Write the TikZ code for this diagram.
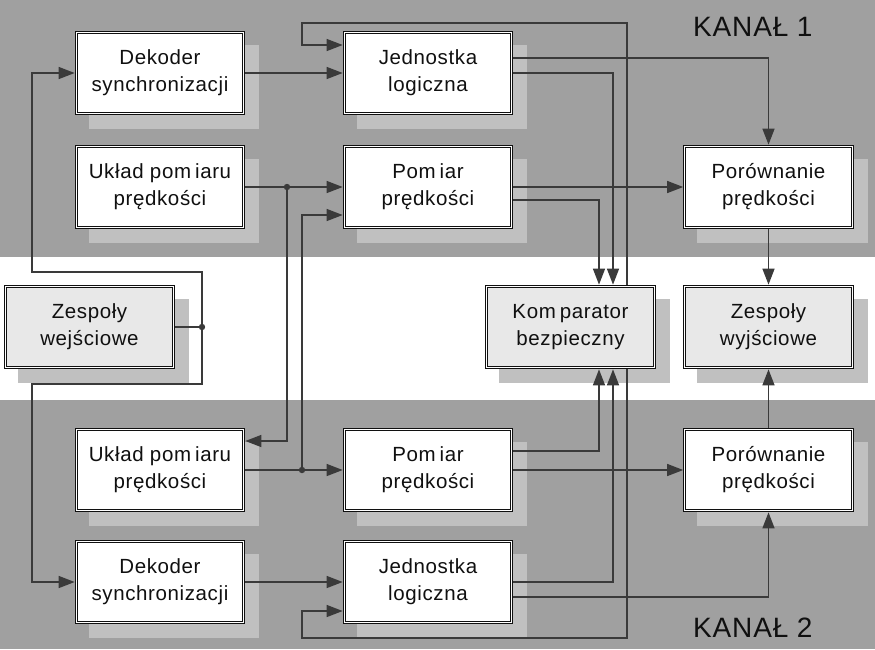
\documentclass[tikz,border=0pt]{standalone}
\usepackage{fontspec}
\setmainfont{Liberation Sans}[LetterSpace=3]
\usetikzlibrary{arrows.meta}
\pgfdeclarelayer{bg}
\pgfsetlayers{bg,main}
\definecolor{bandgray}{HTML}{A0A0A0}
\definecolor{shadowgray}{HTML}{C0C0C0}
\definecolor{panel}{HTML}{E8E8E8}
\definecolor{wire}{HTML}{3A3A3A}
\definecolor{ink}{HTML}{101010}
\tikzset{
  block/.style={draw=ink, double=white, double distance=1.4pt, line width=0.9pt,
    fill=white, minimum width=167.5pt, minimum height=81.5pt, inner sep=0pt,
    outer sep=1.6pt, align=center, text=ink,
    font=\fontsize{20.5}{27}\selectfont},
  midblock/.style={block, fill=panel},
  arr/.style={draw=wire, line width=1.4pt, -{Triangle[length=16pt,width=12pt]}},
  wireline/.style={draw=wire, line width=1.4pt},
  joint/.style={fill=wire},
  chan/.style={anchor=base west, inner sep=0pt, text=ink,
    font=\fontsize{28}{30}\selectfont}
}
\begin{document}
\begin{tikzpicture}[x=1pt,y=-1pt]
\useasboundingbox (0,0) rectangle (875,649);

% blocks of both channels and the shared blocks
\node[block] (d1) at (160,73) {Dekoder\\synchronizacji};
\node[block] (u1) at (160,187) {Układ pom\kern4pt iaru\\prędkości};
\node[block] (j1) at (428,73) {Jednostka\\logiczna};
\node[block] (p1) at (428,187) {Pom\kern4pt iar\\prędkości};
\node[block] (c1) at (768.5,187) {Porównanie\\prędkości};

\node[midblock] (zin) at (89.5,327) {Zespoły\\wejściowe};
\node[midblock] (kb) at (570.5,327) {Kom\kern4pt parator\\bezpieczny};
\node[midblock] (zout) at (768.5,327) {Zespoły\\wyjściowe};

\node[block] (u2) at (160,470) {Układ pom\kern4pt iaru\\prędkości};
\node[block] (d2) at (160,582) {Dekoder\\synchronizacji};
\node[block] (p2) at (428,470) {Pom\kern4pt iar\\prędkości};
\node[block] (j2) at (428,582) {Jednostka\\logiczna};
\node[block] (c2) at (768.5,470) {Porównanie\\prędkości};

\node[chan] (k1) at (693,36) {KANAŁ 1};
\node[chan] (k2) at (693,637) {KANAŁ 2};

% channel bands and drop shadows
\begin{pgfonlayer}{bg}
  \fill[bandgray] (0,0) rectangle (875,257);
  \fill[bandgray] (0,400) rectangle (875,649);
  \foreach \n in {d1,u1,j1,p1,c1,zin,kb,zout,u2,d2,p2,j2,c2}
    \fill[shadowgray] ([shift={(14pt,-14pt)}]\n.south west) rectangle ([shift={(14pt,-14pt)}]\n.north east);
\end{pgfonlayer}

% junction points
\coordinate (jin) at (202,327);
\coordinate (ja) at (287,187);
\coordinate (jb) at (302,470);

% input distribution
\draw[wireline] (zin.east) -- (jin);
\draw[arr] (jin) -- (202,272) -- (32,272) |- (d1.west);
\draw[arr] (jin) -- (202,384) -- (32,384) |- (d2.west);

% decoders to logic units
\draw[arr] (d1.east) -- (j1.west);
\draw[arr] (d2.east) -- (j2.west);

% speed measurement
\draw[arr] (u1.east) -- (p1.west);
\draw[arr] (u2.east) -- (p2.west);
\draw[arr] (ja) |- ([yshift=29pt]u2.east);
\draw[arr] (jb) |- ([yshift=-28pt]p1.west);

% feedback from the safety comparator
\draw[arr] ([xshift=56.5pt]kb.north) |- (302,23) |- ([yshift=28pt]j1.west);
\draw[arr] ([xshift=56.5pt]kb.south) |- (302,638) |- ([yshift=-29pt]j2.west);

% channel 1 outputs
\draw[arr] ([yshift=15pt]j1.east) -| (c1.north);
\draw[arr] (j1.east) -| ([xshift=42.5pt]kb.north);
\draw[arr] (p1.east) -- (c1.west);
\draw[arr] ([yshift=-13pt]p1.east) -| ([xshift=28.5pt]kb.north);

% channel 2 outputs
\draw[arr] ([yshift=19pt]p2.east) -| ([xshift=28.5pt]kb.south);
\draw[arr] (p2.east) -- (c2.west);
\draw[arr] (j2.east) -| ([xshift=42.5pt]kb.south);
\draw[arr] ([yshift=-15pt]j2.east) -| (c2.south);

% comparison results to the output units
\draw[arr] (c1.south) -- (zout.north);
\draw[arr] (c2.north) -- (zout.south);

\fill[joint] (jin) circle (3.2pt);
\fill[joint] (ja) circle (3.2pt);
\fill[joint] (jb) circle (3.2pt);
\end{tikzpicture}
\end{document}
